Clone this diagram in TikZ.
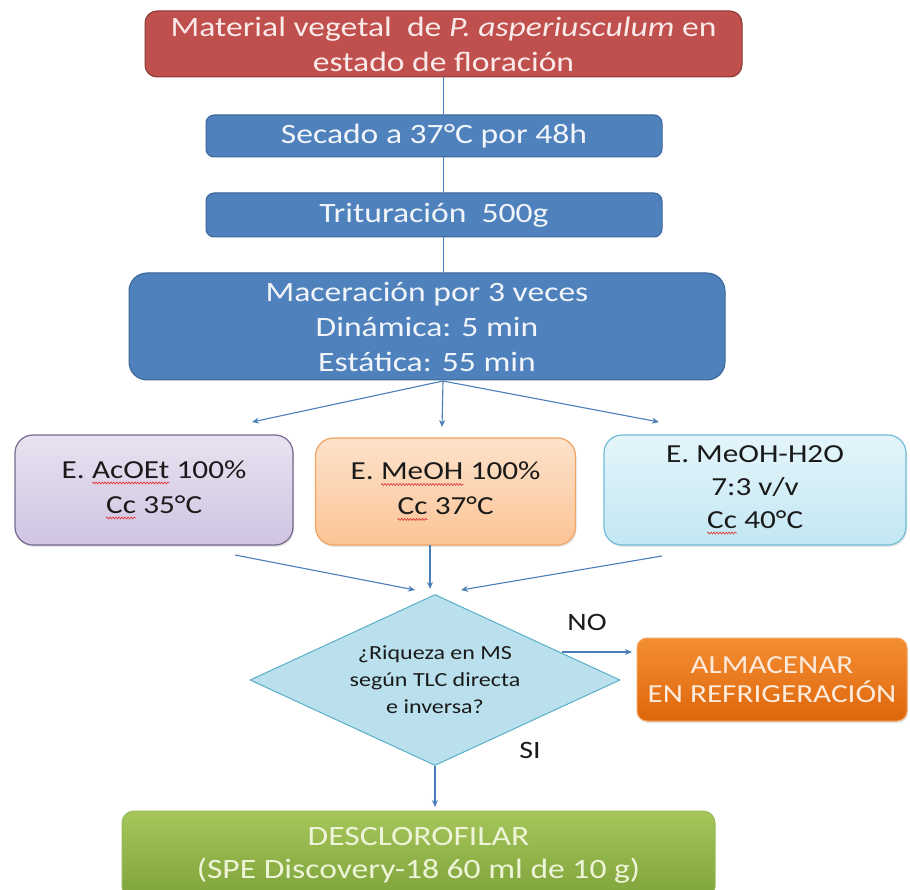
\documentclass[tikz,border=0pt]{standalone}
\usepackage{fontspec}
\setmainfont{Carlito}[FakeStretch=1.2]
\usetikzlibrary{shapes.geometric,arrows.meta,shadows,decorations.pathmorphing}
\definecolor{redfill}{HTML}{C0504D}
\definecolor{redline}{HTML}{8C3836}
\definecolor{redtext}{HTML}{FAEAEA}
\definecolor{bluefill}{HTML}{4F81BD}
\definecolor{blueline}{HTML}{3A6496}
\definecolor{bluetext}{HTML}{F2F5FA}
\definecolor{purtop}{HTML}{E8E2F0}
\definecolor{purbot}{HTML}{D0C4E2}
\definecolor{purline}{HTML}{76688F}
\definecolor{ortop}{HTML}{FDE2CB}
\definecolor{orbot}{HTML}{FBC496}
\definecolor{orline}{HTML}{F0A463}
\definecolor{lbtop}{HTML}{E4F5FB}
\definecolor{lbbot}{HTML}{C3E7F3}
\definecolor{lbline}{HTML}{6FBDD6}
\definecolor{diafill}{HTML}{B9E0EC}
\definecolor{dialine}{HTML}{5AAFC9}
\definecolor{almtop}{HTML}{F48E32}
\definecolor{almbot}{HTML}{DE660C}
\definecolor{almline}{HTML}{F4A460}
\definecolor{almtext}{HTML}{FEEBDC}
\definecolor{grtop}{HTML}{A6C65B}
\definecolor{grbot}{HTML}{7DA33A}
\definecolor{grline}{HTML}{9BBB59}
\definecolor{grtext}{HTML}{EEF4D8}
\definecolor{connc}{HTML}{4A7EBB}
\definecolor{spellred}{HTML}{E03030}
\definecolor{darktext}{HTML}{1A1A1A}
\newcommand\squig[1]{\tikz[baseline=(w.base), x=1pt, y=1pt, sharp corners]{\node[inner sep=0pt,outer sep=0pt,draw=none,fill=none,minimum size=0pt,shape=rectangle](w){#1};
  \draw[spellred, line width=0.6pt, sharp corners, decorate, decoration={snake, amplitude=1pt, segment length=3pt}] ([yshift=-4.5pt]w.base west) -- ([yshift=-4.5pt]w.base east);}}
\tikzset{
  box/.style={rectangle, align=center, inner sep=0pt, font=\fontsize{28}{35}\selectfont},
  redbox/.style={box, fill=redfill, draw=redline, line width=1pt, rounded corners=12pt, text=redtext},
  bluebox/.style={box, fill=bluefill, draw=blueline, line width=1pt, rounded corners=8pt, text=bluetext},
  solvbox/.style={box, line width=1.2pt, rounded corners=18pt, text=darktext, font=\fontsize{26}{35}\selectfont,
    drop shadow={opacity=0.2, shadow xshift=1pt, shadow yshift=-2pt}},
  conn/.style={draw=connc, line width=1.1pt},
  arr/.style={conn, -{Stealth[length=7pt,width=6pt]}},
  lbl/.style={font=\fontsize{25}{30}\selectfont, text=darktext, inner sep=0pt}
}
\begin{document}
\begin{tikzpicture}[x=1pt,y=-1pt]
\useasboundingbox (0,0) rectangle (910,890);
\fill[white] (0,0) rectangle (910,890);
% top chain
\node[redbox, minimum width=597pt, minimum height=66pt] (red) at (443.5,44)
  {Material vegetal\ \ de \textit{P. asperiusculum} en\\estado de floración};
\node[bluebox, minimum width=456pt, minimum height=42pt] (sec) at (434,136) {Secado a 37°C por 48h};
\node[bluebox, minimum width=456pt, minimum height=44pt] (tri) at (434,215) {Trituración\ \ 500g};
\node[bluebox, rounded corners=18pt, minimum width=596pt, minimum height=107pt] (mac) at (427,326.5)
  {Maceración por\ 3 veces\\Dinámica: 5 min\\Estática: 55 min};
\draw[conn] (red.south) -- (red.south |- sec.north);
\draw[conn] (red.south |- sec.south) -- (red.south |- tri.north);
\draw[conn] (red.south |- tri.south) -- (red.south |- mac.north);
% solvent boxes
\node[solvbox, top color=purtop, bottom color=purbot, draw=purline, minimum width=278pt, minimum height=110pt] (aco) at (154,490)
  {E. \squig{AcOEt} 100\%\\\squig{Cc} 35°C};
\node[solvbox, top color=ortop, bottom color=orbot, draw=orline, minimum width=260pt, minimum height=107pt] (meo) at (445.5,491.5)
  {E. \squig{MeOH} 100\%\\\squig{Cc} 37°C};
\node[solvbox, top color=lbtop, bottom color=lbbot, draw=lbline, minimum width=302pt, minimum height=110pt, font=\fontsize{26}{33}\selectfont] (mw) at (755,490)
  {E. MeOH-H2O\\7:3 v/v\\\squig{Cc} 40°C};
\coordinate (fork) at (443,381);
\coordinate (fa) at (252,422);
\coordinate (fb) at (442,427);
\coordinate (fc) at (659,422);
\draw[arr] (fork) -- (fa);
\draw[arr] (fork) -- (fb);
\draw[arr] (fork) -- (fc);
% decision
\node[diamond, aspect=2.16, minimum width=370pt, minimum height=171pt, inner sep=0pt,
  fill=diafill, draw=dialine, line width=1pt, align=center, text=darktext,
  font=\fontsize{20}{27}\selectfont] (dia) at (435,680)
  {¿Riqueza en MS\\según TLC directa\\e inversa?};
\coordinate (ca) at (235,555);
\coordinate (cat) at (415,590);
\coordinate (cb) at (430,545);
\coordinate (cbt) at (430,589);
\coordinate (cc) at (662,556);
\coordinate (cct) at (461,590);
\draw[arr] (ca) -- (cat);
\draw[arr] (cb) -- (cbt);
\draw[arr] (cc) -- (cct);
% store
\node[box, top color=almtop, bottom color=almbot, draw=almline, line width=1pt, rounded corners=10pt,
  minimum width=270pt, minimum height=83pt, text=almtext, font=\fontsize{26}{29}\selectfont,
  drop shadow={opacity=0.2, shadow xshift=1pt, shadow yshift=-2pt}] (alm) at (772,679.5)
  {ALMACENAR\\EN REFRIGERACIÓN};
\coordinate (nos) at (562,652);
\coordinate (noe) at (632,652);
\draw[arr] (nos) -- (noe);
\node[lbl] (no) at (587,622) {NO};
% final
\node[box, top color=grtop, bottom color=grbot, draw=grline, line width=1pt, rounded corners=12pt,
  minimum width=593pt, minimum height=88pt, text=grtext, font=\fontsize{28}{33}\selectfont] (gr) at (418.5,855)
  {DESCLOROFILAR\\(SPE Discovery-18 60 ml de 10 g)};
\coordinate (sie) at (435,807);
\draw[arr] (dia.south) -- (sie);
\node[lbl] (si) at (530,750) {SI};
\end{tikzpicture}
\end{document}
